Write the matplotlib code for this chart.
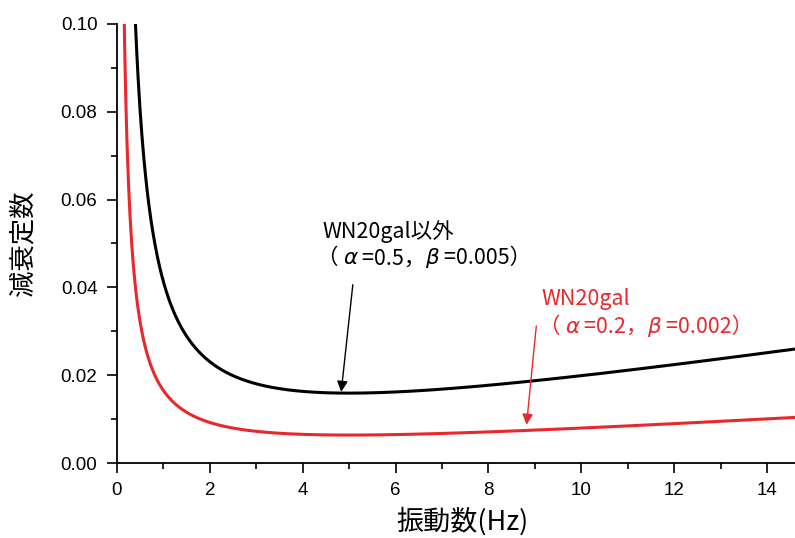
import numpy as np
import matplotlib
matplotlib.use("Agg")
import matplotlib.pyplot as plt
from matplotlib.ticker import MultipleLocator, FormatStrFormatter
from matplotlib.offsetbox import TextArea, HPacker, AnnotationBbox

# Rayleigh damping parameters shown in the chart
alpha_other, beta_other = 0.5, 0.005   # WN20gal以外
alpha_wn, beta_wn = 0.2, 0.002         # WN20gal
freq = np.linspace(0.05, 14.6, 1500)   # Hz

def damping(a, b, f):
    return a / (4 * np.pi * f) + b * f / np.pi

h_other = damping(alpha_other, beta_other, freq)
h_wn = damping(alpha_wn, beta_wn, freq)

JP = ['Noto Sans CJK JP', 'DejaVu Sans']
NUM = ['Liberation Sans', 'DejaVu Sans']
black = '#000000'
red = '#e8282d'
FS = 15.5

fig = plt.figure(figsize=(7.95, 5.38), dpi=100)
ax = fig.add_axes([0.147, 0.1394, 0.853, 0.8160])

ax.plot(freq, h_other, color=black, lw=2.2, solid_capstyle='butt')
ax.plot(freq, h_wn, color=red, lw=2.2, solid_capstyle='butt')

ax.set_xlim(0, 14.6)
ax.set_ylim(0, 0.10)
ax.xaxis.set_major_locator(MultipleLocator(2))
ax.xaxis.set_minor_locator(MultipleLocator(1))
ax.yaxis.set_major_locator(MultipleLocator(0.02))
ax.yaxis.set_minor_locator(MultipleLocator(0.01))
ax.yaxis.set_major_formatter(FormatStrFormatter('%.2f'))

for s in ['top', 'right']:
    ax.spines[s].set_visible(False)
for s in ['left', 'bottom']:
    ax.spines[s].set_linewidth(1.3)

ax.tick_params(which='major', direction='out', length=7, width=1.2,
               labelsize=13.5, pad=7)
ax.tick_params(which='minor', direction='out', length=4, width=1.2)
for lab in ax.get_xticklabels() + ax.get_yticklabels():
    lab.set_family(NUM)

ax.set_xlabel('振動数(Hz)', family=JP, fontsize=19.5, va='center')
ax.xaxis.set_label_coords(0.51, -0.133)
ax.set_ylabel('減衰定数', family=JP, fontsize=19, va='center')
ax.yaxis.set_label_coords(-0.139, 0.5)


def param_line(x, y, a_txt, b_txt, color):
    base = dict(family=JP, fontsize=FS, color=color)
    ital = dict(family=['DejaVu Sans'], fontstyle='italic', fontsize=FS,
                color=color)
    parts = [TextArea('（ ', textprops=base),
             TextArea('α', textprops=ital),
             TextArea(' =' + a_txt + '，', textprops=base),
             TextArea('β', textprops=ital),
             TextArea(' =' + b_txt + '）', textprops=base)]
    box = HPacker(children=parts, align='baseline', pad=0, sep=0)
    ab = AnnotationBbox(box, (x, y), xycoords='data', box_alignment=(0, 0.5),
                        frameon=False, pad=0)
    ax.add_artist(ab)


# annotations
ax.text(4.43, 0.0527, 'WN20gal以外', family=JP, fontsize=FS,
        color=black, ha='left', va='center')
param_line(4.30, 0.0466, '0.5', '0.005', black)
ax.annotate('', xy=(4.83, 0.0162), xytext=(5.08, 0.0406),
            arrowprops=dict(arrowstyle='-|>', color=black, lw=1.0,
                            mutation_scale=16, shrinkA=0, shrinkB=0))

ax.text(9.14, 0.0373, 'WN20gal', family=JP, fontsize=FS,
        color=red, ha='left', va='center')
param_line(9.08, 0.0310, '0.2', '0.002', red)
ax.annotate('', xy=(8.82, 0.0087), xytext=(9.03, 0.0312),
            arrowprops=dict(arrowstyle='-|>', color=red, lw=1.0,
                            mutation_scale=16, shrinkA=0, shrinkB=0))

fig.savefig('out.png', dpi=100)
